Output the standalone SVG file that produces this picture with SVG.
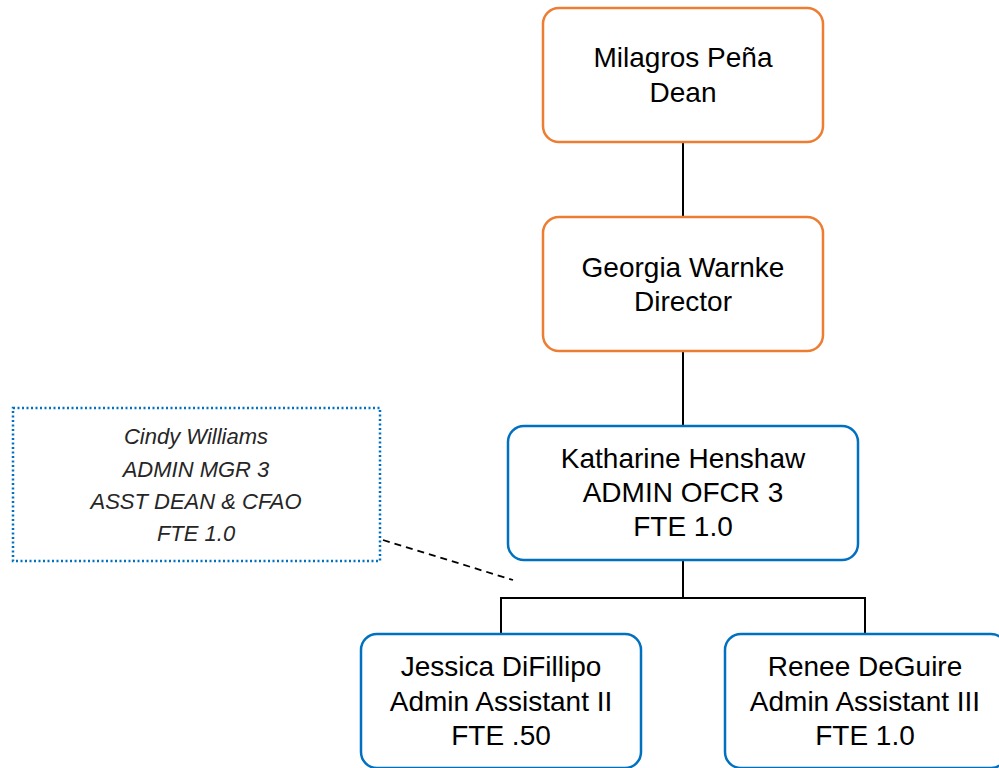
<svg xmlns="http://www.w3.org/2000/svg" width="999" height="768" viewBox="0 0 999 768">
<style>
.box{fill:#fff;stroke-width:2.5}
.or{stroke:#ED7D31}
.bl{stroke:#0070C0}
.t{font-family:"Liberation Sans",Arial,sans-serif;font-size:28px;fill:#000;text-anchor:middle}
.it{font-family:"Liberation Sans",Arial,sans-serif;font-size:22px;font-style:italic;fill:#262626;text-anchor:middle}
.ln{stroke:#000;stroke-width:2;fill:none}
</style>
<rect width="999" height="768" fill="#fff"/>
<g id="connectors">
<line class="ln" x1="683" y1="142" x2="683" y2="217"/>
<line class="ln" x1="683" y1="351" x2="683" y2="425"/>
<polyline class="ln" points="683,560 683,598"/>
<polyline class="ln" points="501,634 501,598 865,598 865,634"/>
<line x1="383" y1="540" x2="513" y2="580" stroke="#000" stroke-width="1.8" stroke-dasharray="7,5"/>
</g>
<g id="dean">
<rect class="box or" x="543" y="8" width="280" height="134" rx="16"/>
<text class="t" x="683" y="67">Milagros Peña</text>
<text class="t" x="683" y="102">Dean</text>
</g>
<g id="director">
<rect class="box or" x="543" y="217" width="280" height="134" rx="16"/>
<text class="t" x="683" y="277">Georgia Warnke</text>
<text class="t" x="683" y="311">Director</text>
</g>
<g id="henshaw">
<rect class="box bl" x="508" y="426" width="350" height="134" rx="16"/>
<text class="t" x="683" y="468">Katharine Henshaw</text>
<text class="t" x="683" y="502">ADMIN OFCR 3</text>
<text class="t" x="683" y="536">FTE 1.0</text>
</g>
<g id="williams">
<rect x="13" y="408" width="367" height="153" fill="#fff" stroke="#0070C0" stroke-width="2.5" stroke-dasharray="2,2.5"/>
<text class="it" x="196" y="444">Cindy Williams</text>
<text class="it" x="196" y="477">ADMIN MGR 3</text>
<text class="it" x="196" y="509">ASST DEAN &amp; CFAO</text>
<text class="it" x="196" y="541">FTE 1.0</text>
</g>
<g id="difillipo">
<rect class="box bl" x="361" y="634" width="280" height="134" rx="16"/>
<text class="t" x="501" y="676">Jessica DiFillipo</text>
<text class="t" x="501" y="711">Admin Assistant II</text>
<text class="t" x="501" y="745">FTE .50</text>
</g>
<g id="deguire">
<rect class="box bl" x="725" y="634" width="282" height="134" rx="16"/>
<text class="t" x="865" y="676">Renee DeGuire</text>
<text class="t" x="865" y="711">Admin Assistant III</text>
<text class="t" x="865" y="745">FTE 1.0</text>
</g>
</svg>
